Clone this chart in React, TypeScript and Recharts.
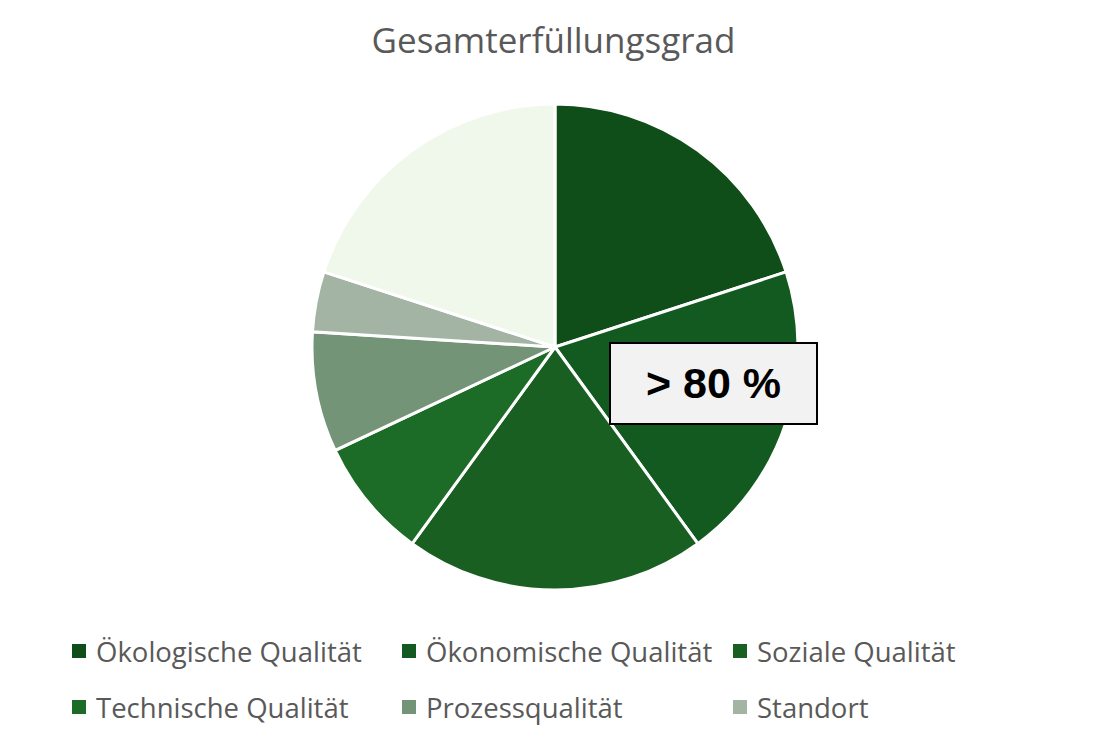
import { PieChart, Pie, Cell, Legend } from 'recharts'

// ── Data ────────────────────────────────────────────────────────────────────

const categories = [
  'Ökologische Qualität',
  'Ökonomische Qualität',
  'Soziale Qualität',
  'Technische Qualität',
  'Prozessqualität',
  'Standort',
  'Rest',
]
const shares = [20, 20, 20, 8, 8, 4, 20]
const colors = ['#0f4d19', '#135a20', '#1a5f22', '#1c6b26', '#739477', '#a3b4a4', '#f0f8ec']

const title = 'Gesamterfüllungsgrad'
const badge = '> 80 %'

const data = categories.map((name, i) => ({ name, value: shares[i] }))

const FONT = '"Open Sans", "Noto Sans", sans-serif'

// ── Legend ──────────────────────────────────────────────────────────────────

const legendCols = [72, 402, 733]
const legendRows = [651, 707]

const LegendContent = () => (
  <div style={{ position: 'relative', width: 1104, height: 120 }}>
    {categories.slice(0, 6).map((name, i) => {
      const col = i % 3
      const row = Math.floor(i / 3)
      return (
        <div
          key={name}
          style={{
            position: 'absolute',
            left: legendCols[col],
            top: legendRows[row] - 625 - 20,
            height: 40,
            display: 'flex',
            alignItems: 'center',
            whiteSpace: 'nowrap',
          }}
        >
          <span style={{ width: 14, height: 14, background: colors[i], display: 'inline-block', marginRight: 10 }} />
          <span style={{ fontFamily: FONT, fontSize: 27.5, color: '#595959' }}>{name}</span>
        </div>
      )
    })}
  </div>
)

// ── Component ───────────────────────────────────────────────────────────────

export default function App() {
  return (
    <div style={{ position: 'absolute', left: 0, top: 0, width: 1104, height: 743, background: '#fff' }}>
      <div
        style={{
          position: 'absolute', left: 0, top: 16, width: 1107, textAlign: 'center',
          fontFamily: FONT, fontSize: 35, color: '#595959',
        }}
      >
        {title}
      </div>
      <PieChart width={1104} height={743}>
        <Pie
          data={data}
          dataKey="value"
          nameKey="name"
          cx={550}
          cy={342}
          outerRadius={243}
          startAngle={90}
          endAngle={-270}
          stroke="#ffffff"
          strokeWidth={3}
          isAnimationActive={false}
        >
          {data.map((d, i) => (
            <Cell key={d.name} fill={colors[i]} />
          ))}
        </Pie>
        <Legend
          content={<LegendContent />}
          wrapperStyle={{ position: 'absolute', left: 0, top: 625, width: 1104 }}
        />
      </PieChart>
      <div
        style={{
          position: 'absolute', left: 609, top: 342, width: 209, height: 83,
          background: '#f2f2f2', border: '2px solid #000', boxSizing: 'border-box',
          display: 'flex', alignItems: 'center', justifyContent: 'center',
          fontFamily: '"Liberation Sans", Arial, sans-serif', fontWeight: 700, fontSize: 43, color: '#000',
        }}
      >
        {badge}
      </div>
    </div>
  )
}
